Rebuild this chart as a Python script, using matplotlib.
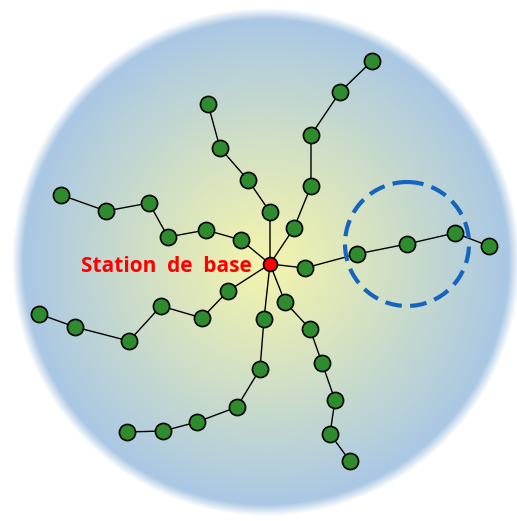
import numpy as np
import matplotlib.pyplot as plt
from matplotlib.patches import Circle

W, H = 517, 521

# node positions (pixels, y down), base station first
base = (270, 264)
branches = [
    [(270, 212), (248, 180), (220, 148), (208, 104)],
    [(241, 240), (206, 230), (168, 237), (149, 203), (106, 211), (61, 195)],
    [(294, 228), (311, 186), (311, 135), (340, 92), (372, 61)],
    [(305, 268), (357, 254), (407, 244), (455, 233), (489, 246)],
    [(285, 302), (310, 329), (322, 363), (335, 400), (330, 434), (350, 461)],
    [(264, 319), (260, 369), (237, 407), (197, 422), (163, 431), (127, 432)],
    [(228, 291), (202, 318), (161, 306), (129, 341), (75, 327), (39, 314)],
]
cluster_center = (407, 244)
cluster_radius = 62
label = "Station de base"

fig = plt.figure(figsize=(W / 100, H / 100), dpi=100)
ax = fig.add_axes([0, 0, 1, 1])
ax.set_xlim(0, W)
ax.set_ylim(H, 0)
ax.axis('off')

# radial background: pale yellow centre to light blue rim, soft edge
cx, cy, R = 266, 262, 254
yy, xx = np.mgrid[0:H, 0:W] + 0.5
r = np.hypot(xx - cx, yy - cy) / R
c_in = np.array([243, 244, 172]) / 255
c_out = np.array([170, 200, 228]) / 255
t = np.clip(r / 0.95, 0, 1) ** 1.1
img = np.zeros((H, W, 4))
img[..., :3] = c_in * (1 - t[..., None]) + c_out * t[..., None]
img[..., 3] = np.clip((1.0 - r) / 0.045, 0, 1)
ax.imshow(img, extent=(0, W, H, 0), zorder=0, interpolation='bilinear')

for br in branches:
    pts = [base] + br
    xs, ys = zip(*pts)
    ax.plot(xs, ys, color='black', lw=1.0, zorder=2)
    ax.scatter(xs[1:], ys[1:], s=135, color='#2e8b2e', edgecolor='black',
               linewidth=1.2, zorder=3)

ax.scatter([base[0]], [base[1]], s=100, color='#ff0000', edgecolor='black',
           linewidth=1.2, zorder=4)

ax.add_patch(Circle(cluster_center, cluster_radius, fill=False, color='#1565c0',
                    lw=3, ls=(0, (4, 2)), zorder=5))

ax.text(252, 266, label.replace(' ', '  '), color='#ff0000', fontsize=15,
        fontweight='bold', family='Open Sans', ha='right', va='center', zorder=5)

fig.savefig('out.png', dpi=100)
